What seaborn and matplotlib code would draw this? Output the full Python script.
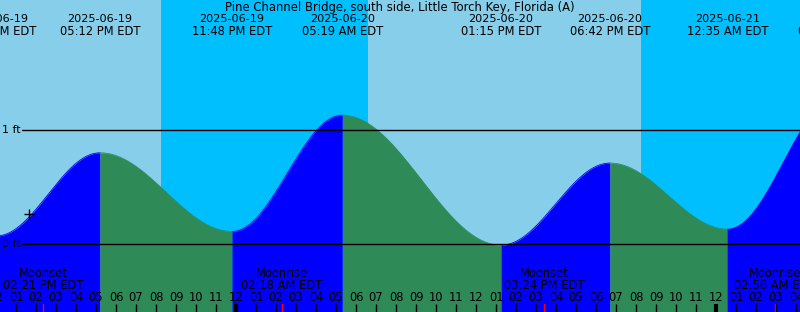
import numpy as np
import pandas as pd
import matplotlib
matplotlib.use("Agg")
import matplotlib.pyplot as plt
import seaborn as sns

sns.set_style("white")
plt.rcParams['font.family'] = ['DejaVu Sans']
plt.rcParams['text.color'] = 'black'

# ---- data (hours since 2025-06-19 00:00 EDT) ----
title = "Pine Channel Bridge, south side, Little Torch Key, Florida (A)"
tide_times = [12.0, 17.2, 23.8, 29.317, 37.25, 42.7, 48.583, 54.15]
tide_heights = [0.07, 0.80, 0.11, 1.13, -0.01, 0.71, 0.13, 1.30]
tide_dates = ["2025-06-19", "2025-06-19", "2025-06-19", "2025-06-20",
              "2025-06-20", "2025-06-20", "2025-06-21", "2025-06-21"]
tide_clock = ["12:00 PM EDT", "05:12 PM EDT", "11:48 PM EDT", "05:19 AM EDT",
              "01:15 PM EDT", "06:42 PM EDT", "12:35 AM EDT", "06:09 AM EDT"]

sun_times = [20.25, 30.6, 44.25]          # sunset, sunrise, sunset
moon_times = [14.35, 26.3, 39.4, 50.933]
moon_names = ["Moonset", "Moonrise", "Moonset", "Moonrise"]
moon_clock = ["02:21 PM EDT", "02:18 AM EDT", "03:24 PM EDT", "02:56 AM EDT"]

now_time = 13.66
now_height = 0.26

ref_levels = [0, 1]
ref_labels = ["0 ft", "1 ft"]

# ---- layout ----
W, H = 800, 312
t0, t1 = 12.2, 52.2
y_top, y_bot = 244 / 114, -68 / 114
DAY = "#87CEEB"
NIGHT = "#00BFFF"
RISE = "#0000FF"
FALL = "#2E8B57"

fig = plt.figure(figsize=(W / 100, H / 100), dpi=100)
ax = fig.add_axes([0, 0, 1, 1])

# sky background
edges = [t0 - 5] + sun_times + [t1 + 5]
for i in range(len(edges) - 1):
    ax.axvspan(edges[i], edges[i + 1], color=DAY if i % 2 == 0 else NIGHT, lw=0, zorder=0)

# tide water
for i in range(len(tide_times) - 1):
    ta, tb = tide_times[i], tide_times[i + 1]
    ha, hb = tide_heights[i], tide_heights[i + 1]
    tt = np.linspace(ta, tb, 200)
    frac = (tt - ta) / (tb - ta)
    hh = ha + (hb - ha) * (1 - np.cos(np.pi * frac)) / 2
    col = RISE if hb > ha else FALL
    ax.fill_between(tt, y_bot - 1, hh, color=col, lw=0, zorder=1)
    seg = pd.DataFrame({"t": tt, "h": hh})
    sns.lineplot(data=seg, x="t", y="h", ax=ax, color=col, lw=0.6, zorder=1.5)
ax.set_xlim(t0, t1)
ax.set_ylim(y_bot, y_top)
ax.axis("off")

# reference lines
px = (t1 - t0) / W
for lev, lab in zip(ref_levels, ref_labels):
    ax.plot([t0 + 22 * px, t1], [lev, lev], color="black", lw=1.0, zorder=3)
    ax.text(t0 + 20.5 * px, lev, lab, ha="right", va="center", fontsize=8,
            color="black", zorder=4)

# now marker
ax.plot([now_time], [now_height], marker="+", color="black", ms=6.5, mew=1.0, zorder=4)

def ypix(y):
    return y_top - (y_top - y_bot) * y / H

TXT = dict(ha="center", va="center", fontsize=8.3, color="black", zorder=5)

# title and tide labels
ax.text((t0 + t1) / 2, ypix(8), title, **{**TXT, "fontsize": 8.4})
for t, d, c in zip(tide_times, tide_dates, tide_clock):
    ax.text(t, ypix(19.5), d, **{**TXT, "fontsize": 8.1})
    ax.text(t, ypix(31.5), c, **TXT)

# moon labels and ticks
for t, n, c in zip(moon_times, moon_names, moon_clock):
    ax.text(t, ypix(273.5), n, **TXT)
    ax.text(t, ypix(285.5), c, **TXT)
    ax.plot([t, t], [ypix(304), ypix(313)], color="red", lw=1.0, zorder=5)

# hour labels and ticks
for hr in range(12, 54):
    lab = f"{(hr - 1) % 12 + 1:02d}"
    ax.text(hr, ypix(297.5), lab, **TXT)
    lw = 3.0 if hr % 24 == 0 else 1.0
    ax.plot([hr, hr], [ypix(304), ypix(313)], color="black", lw=lw, zorder=5,
            solid_capstyle="butt")

fig.savefig("out.png", dpi=100)
